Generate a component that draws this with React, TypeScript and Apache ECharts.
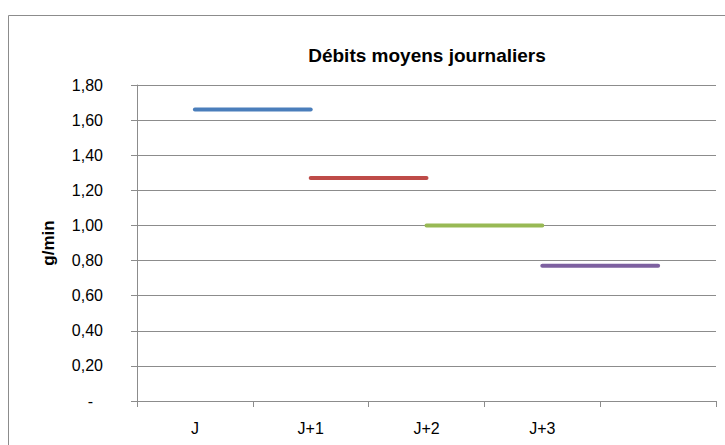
import React, { useEffect, useRef } from "react";
import * as echarts from "echarts";

const categories: string[] = ["J", "J+1", "J+2", "J+3", ""];
const seriesNames: string[] = ["J", "J+1", "J+2", "J+3"];
const dailyMeans: number[] = [1.66, 1.27, 1.0, 0.77];
const seriesColors: string[] = ["#4A7EBB", "#BE4B48", "#98B954", "#7D60A0"];
const yMin = 0;
const yMax = 1.8;
const yInterval = 0.2;
const titleText = "Débits moyens journaliers";
const yAxisName = "g/min";

const FONT = "'Liberation Sans', Arial, sans-serif";
const GRAY = "#8C8C8C";

export default function App() {
  const ref = useRef<HTMLDivElement>(null);
  useEffect(() => {
    if (!ref.current) return;
    const chart = echarts.init(ref.current, undefined, { renderer: "svg" });
    const series = dailyMeans.map((v, i) => ({
      name: seriesNames[i],
      type: "line",
      data: categories.map((_, j) => (j === i || j === i + 1 ? v : null)),
      showSymbol: false,
      symbol: "none",
      connectNulls: false,
      lineStyle: { color: seriesColors[i], width: 4, cap: "round" },
      itemStyle: { color: seriesColors[i] },
    }));
    chart.setOption({
      animation: false,
      textStyle: { fontFamily: FONT },
      title: {
        text: titleText,
        left: 422,
        top: 41,
        textAlign: "center",
        textStyle: { fontFamily: FONT, fontSize: 19, fontWeight: "bold", color: "#000" },
      },
      graphic: [
        {
          type: "rect",
          shape: { x: 8.5, y: 15.5, width: 800, height: 500 },
          style: { fill: "none", stroke: GRAY, lineWidth: 1 },
          z: 0,
        },
      ],
      grid: { left: 137, right: 9, top: 85, bottom: 44, containLabel: false },
      xAxis: {
        type: "category",
        data: categories,
        boundaryGap: true,
        axisLine: { show: true, lineStyle: { color: GRAY, width: 1 } },
        axisTick: { show: true, interval: 0, length: 6, lineStyle: { color: GRAY } },
        axisLabel: { interval: 0, margin: 19, fontSize: 16, color: "#000", fontFamily: FONT },
        splitLine: { show: false },
      },
      yAxis: {
        type: "value",
        min: yMin,
        max: yMax,
        interval: yInterval,
        name: yAxisName,
        nameLocation: "middle",
        nameGap: 80,
        nameRotate: 90,
        nameTextStyle: { fontFamily: FONT, fontSize: 17, fontWeight: "bold", color: "#000" },
        axisLine: { show: true, lineStyle: { color: GRAY, width: 1 } },
        axisTick: { show: true, length: 6, lineStyle: { color: GRAY } },
        axisLabel: {
          margin: 34,
          fontSize: 16,
          color: "#000",
          fontFamily: FONT,
          formatter: (v: number) =>
            Math.abs(v) < 1e-9 ? "{d|-}" : v.toFixed(2).replace(".", ","),
          rich: { d: { padding: [0, 10, 0, 0], fontSize: 16, color: "#000", fontFamily: FONT } },
        },
        splitLine: { show: true, lineStyle: { color: GRAY, width: 1 } },
      },
      series,
    });
    return () => chart.dispose();
  }, []);
  return (
    <div
      ref={ref}
      style={{ position: "absolute", left: 0, top: 0, width: 725, height: 445, background: "#fff" }}
    />
  );
}
